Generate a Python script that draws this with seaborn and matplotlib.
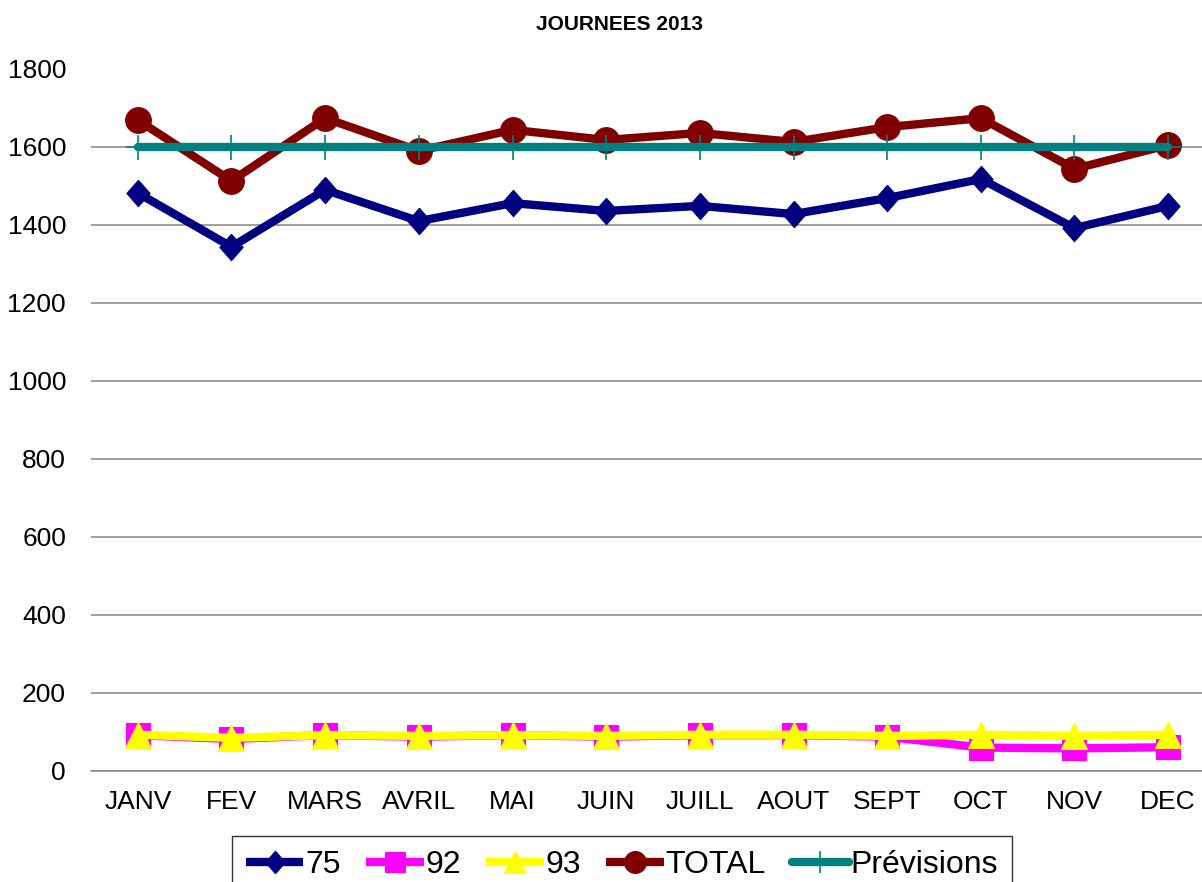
import numpy as np
import pandas as pd
import matplotlib
matplotlib.use("Agg")
import matplotlib.pyplot as plt
import seaborn as sns

months = ["JANV", "FEV", "MARS", "AVRIL", "MAI", "JUIN", "JUILL", "AOUT", "SEPT", "OCT", "NOV", "DEC"]
s75 = [1482, 1344, 1490, 1410, 1456, 1436, 1449, 1428, 1469, 1518, 1392, 1449]
s92 = [92, 82, 92, 88, 92, 88, 92, 92, 88, 60, 58, 61]
s93 = [93, 85, 92, 90, 92, 90, 93, 93, 90, 93, 90, 93]
total = [1669, 1513, 1674, 1590, 1644, 1618, 1636, 1613, 1651, 1674, 1544, 1605]
previsions = [1600] * 12
yticks = [0, 200, 400, 600, 800, 1000, 1200, 1400, 1600, 1800]
title = "JOURNEES 2013"

sns.set_theme(style="white")
plt.rcParams["font.family"] = ["Liberation Sans", "DejaVu Sans"]
plt.rcParams["text.color"] = "black"

fig = plt.figure(figsize=(12.02, 8.82), dpi=100)
ax = fig.add_axes([91 / 1202, 1 - 771 / 882, 1124 / 1202, 702 / 882])

diamond = [(0, 1), (0.88, 0), (0, -1), (-0.88, 0), (0, 1)]

series = [
    ("75", s75, "#000080", diamond, 19),
    ("92", s92, "#FF00FF", "s", 17),
    ("93", s93, "#FFFF00", "^", 19),
    ("TOTAL", total, "#800000", "o", 18.5),
]
for name, vals, col, mk, ms in series:
    df = pd.DataFrame({"mois": months, "val": vals})
    sns.lineplot(data=df, x="mois", y="val", ax=ax, sort=False, color=col, lw=6,
                 marker=mk, markersize=ms, markeredgecolor=col, markerfacecolor=col,
                 markeredgewidth=0.8, label=name, solid_capstyle="butt")

dfp = pd.DataFrame({"mois": months, "val": previsions})
sns.lineplot(data=dfp, x="mois", y="val", ax=ax, sort=False, color="#008080", lw=6,
             marker="+", markersize=18, markeredgewidth=1.2, markeredgecolor="#008080",
             label="Prévisions", solid_capstyle="round")

ax.set_xlim(-0.5, 11.5)
ax.set_ylim(0, 1800)
ax.set_yticks(yticks)
ax.set_xlabel("")
ax.set_ylabel("")
ax.grid(axis="y", color="#868686", lw=1.1)
ax.grid(axis="x", visible=False)
ax.get_ygridlines()[-1].set_visible(False)
for sp in ["left", "right", "top"]:
    ax.spines[sp].set_visible(False)
ax.spines["bottom"].set_color("#868686")
ax.spines["bottom"].set_linewidth(1.1)
ax.tick_params(axis="y", length=0, pad=18, labelsize=19, labelcolor="black")
ax.tick_params(axis="x", length=0, pad=14, labelsize=19, labelcolor="black")

ax.get_legend().remove()
h, l = ax.get_legend_handles_labels()
leg = fig.legend(h, l, loc="upper center", bbox_to_anchor=(622 / 1202, 1 - 836 / 882),
                 borderaxespad=0, ncol=5, fontsize=23, frameon=True, fancybox=False,
                 edgecolor="black", handlelength=1.8, handletextpad=0.05,
                 columnspacing=0.8, borderpad=0.45, markerscale=0.85)
leg.get_frame().set_linewidth(1.0)
for txt in leg.get_texts():
    txt.set_color("black")

fig.text(620 / 1202, 1 - 25 / 882, title, ha="center", va="center", fontsize=15,
         fontweight="bold", color="black")

fig.savefig("out.png", dpi=100)
